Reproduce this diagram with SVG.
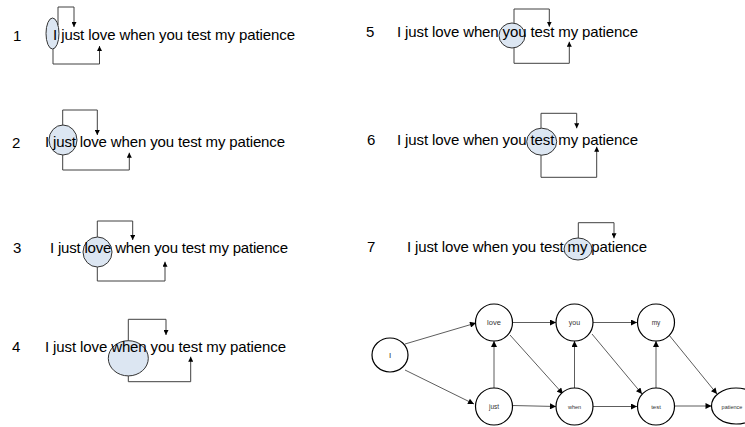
<svg xmlns="http://www.w3.org/2000/svg" width="745" height="427" viewBox="0 0 745 427">
  <defs>
    <style>
      .num { font-family: "Liberation Sans", Arial, sans-serif; font-size: 15px; fill: #000; }
      .sent { font-family: "Liberation Sans", Arial, sans-serif; font-size: 15px; fill: #000; }
      .hl { fill: #dce6f2; stroke: #333; stroke-width: 1; }
      .br { fill: none; stroke: #404040; stroke-width: 1; }
      .node { fill: #fff; stroke: #000; stroke-width: 1.2; }
      .edge { fill: none; stroke: #333; stroke-width: 0.8; }
      .lbl { font-family: "Liberation Sans", Arial, sans-serif; fill: #333; text-anchor: middle; }
    </style>
    <marker id="tip" viewBox="0 0 10 10" refX="10" refY="5" markerWidth="5" markerHeight="5" markerUnits="userSpaceOnUse" orient="auto">
      <path d="M0,0 L10,5 L0,10 z" fill="#000"/>
    </marker>
    <marker id="gtip" viewBox="0 0 10 10" refX="10" refY="5" markerWidth="7" markerHeight="6" markerUnits="userSpaceOnUse" orient="auto">
      <path d="M0,0 L10,5 L0,10 z" fill="#000"/>
    </marker>
  </defs>

  <!-- step panels: highlighted word with its skip links -->
  <g id="step1">
    <text class="num" x="13" y="41">1</text>
    <ellipse class="hl" cx="52.5" cy="33.5" rx="6.5" ry="15.5"/>
    <text class="sent" x="53" y="40" textLength="242" lengthAdjust="spacing">I just love when you test my patience</text>
  </g>
  <g id="step2">
    <text class="num" x="12" y="148">2</text>
    <ellipse class="hl" cx="63" cy="140" rx="14" ry="15"/>
    <text class="sent" x="45" y="147" textLength="240" lengthAdjust="spacing">I just love when you test my patience</text>
  </g>
  <g id="step3">
    <text class="num" x="13" y="253">3</text>
    <ellipse class="hl" cx="97.5" cy="252" rx="14.5" ry="15"/>
    <text class="sent" x="50" y="253" textLength="238" lengthAdjust="spacing">I just love when you test my patience</text>
  </g>
  <g id="step4">
    <text class="num" x="12" y="352">4</text>
    <ellipse class="hl" cx="128.3" cy="358.3" rx="20" ry="17.6"/>
    <text class="sent" x="45" y="352" textLength="241" lengthAdjust="spacing">I just love when you test my patience</text>
  </g>
  <g id="step5">
    <text class="num" x="366" y="37">5</text>
    <ellipse class="hl" cx="512" cy="35.5" rx="13" ry="12.5"/>
    <text class="sent" x="397" y="37" textLength="241" lengthAdjust="spacing">I just love when you test my patience</text>
  </g>
  <g id="step6">
    <text class="num" x="367" y="145">6</text>
    <ellipse class="hl" cx="541.7" cy="141.7" rx="15" ry="13.5"/>
    <text class="sent" x="397" y="145" textLength="241" lengthAdjust="spacing">I just love when you test my patience</text>
  </g>
  <g id="step7">
    <text class="num" x="367" y="252">7</text>
    <ellipse class="hl" cx="578" cy="249" rx="14" ry="11"/>
    <text class="sent" x="407" y="252" textLength="240" lengthAdjust="spacing">I just love when you test my patience</text>
  </g>

  <!-- skip links above and below each sentence -->
  <g id="step-links">
    <path class="br" d="M58,25 V7 H74 V27" marker-end="url(#tip)"/>
    <path class="br" d="M53,49 V64 H99.5 V46" marker-end="url(#tip)"/>
    <path class="br" d="M62.7,125 V110 H97.3 V135" marker-end="url(#tip)"/>
    <path class="br" d="M62.7,155 V170 H129.3 V152.7" marker-end="url(#tip)"/>
    <path class="br" d="M97.3,237 V221 H132.7 V240" marker-end="url(#tip)"/>
    <path class="br" d="M97.3,267 V281 H165 V261.7" marker-end="url(#tip)"/>
    <path class="br" d="M128.3,341 V319.3 H166 V335" marker-end="url(#tip)"/>
    <path class="br" d="M128.3,376 V381.7 H190.7 V356.7" marker-end="url(#tip)"/>
    <path class="br" d="M514,23 V9 H549.3 V26.7" marker-end="url(#tip)"/>
    <path class="br" d="M514,48 V63.3 H569.3 V41.7" marker-end="url(#tip)"/>
    <path class="br" d="M541,128 V113.3 H576.7 V128.3" marker-end="url(#tip)"/>
    <path class="br" d="M541,155 V177.3 H596.7 V146.7" marker-end="url(#tip)"/>
    <path class="br" d="M578.3,238 V222.7 H614 V238.3" marker-end="url(#tip)"/>
  </g>

  <!-- word graph -->
  <g id="graph-edges">
    <line class="edge" x1="405" y1="344" x2="476" y2="323" marker-end="url(#gtip)"/>
    <line class="edge" x1="405" y1="370" x2="474" y2="404" marker-end="url(#gtip)"/>
    <line class="edge" x1="494" y1="388" x2="494" y2="341" marker-end="url(#gtip)"/>
    <line class="edge" x1="513" y1="322.5" x2="556" y2="322.5" marker-end="url(#gtip)"/>
    <line class="edge" x1="510" y1="335" x2="563" y2="394" marker-end="url(#gtip)"/>
    <line class="edge" x1="512.5" y1="405.5" x2="556" y2="406.5" marker-end="url(#gtip)"/>
    <line class="edge" x1="574.5" y1="388" x2="574.5" y2="341" marker-end="url(#gtip)"/>
    <line class="edge" x1="593" y1="322.5" x2="637" y2="322.5" marker-end="url(#gtip)"/>
    <line class="edge" x1="592" y1="334" x2="642" y2="394" marker-end="url(#gtip)"/>
    <line class="edge" x1="593" y1="406.5" x2="637" y2="406.5" marker-end="url(#gtip)"/>
    <line class="edge" x1="656" y1="388" x2="656" y2="341" marker-end="url(#gtip)"/>
    <line class="edge" x1="669" y1="335" x2="717" y2="394" marker-end="url(#gtip)"/>
    <line class="edge" x1="675" y1="406" x2="711.5" y2="406" marker-end="url(#gtip)"/>
  </g>

  <g id="n-I">
    <ellipse class="node" cx="390" cy="355" rx="18" ry="17"/>
    <text class="lbl" x="390" y="358" font-size="8">I</text>
  </g>
  <g id="n-love">
    <circle class="node" cx="494" cy="322.5" r="18.5"/>
    <text class="lbl" x="494" y="325" font-size="7.5">love</text>
  </g>
  <g id="n-you">
    <circle class="node" cx="574.5" cy="322.5" r="18.5"/>
    <text class="lbl" x="574.5" y="325" font-size="7">you</text>
  </g>
  <g id="n-my">
    <circle class="node" cx="656" cy="322.5" r="18.5"/>
    <text class="lbl" x="656" y="325" font-size="6.5">my</text>
  </g>
  <g id="n-just">
    <circle class="node" cx="494" cy="406.5" r="18.5"/>
    <text class="lbl" x="494" y="409" font-size="6.5">just</text>
  </g>
  <g id="n-when">
    <circle class="node" cx="574.5" cy="406.5" r="18.5"/>
    <text class="lbl" x="574.5" y="409" font-size="5.5">when</text>
  </g>
  <g id="n-test">
    <circle class="node" cx="656" cy="406.5" r="18.5"/>
    <text class="lbl" x="656" y="409" font-size="6">test</text>
  </g>
  <g id="n-patience">
    <ellipse class="node" cx="736" cy="406" rx="24.5" ry="18"/>
    <text class="lbl" x="732" y="408.5" font-size="5.5">patience</text>
  </g>
</svg>
